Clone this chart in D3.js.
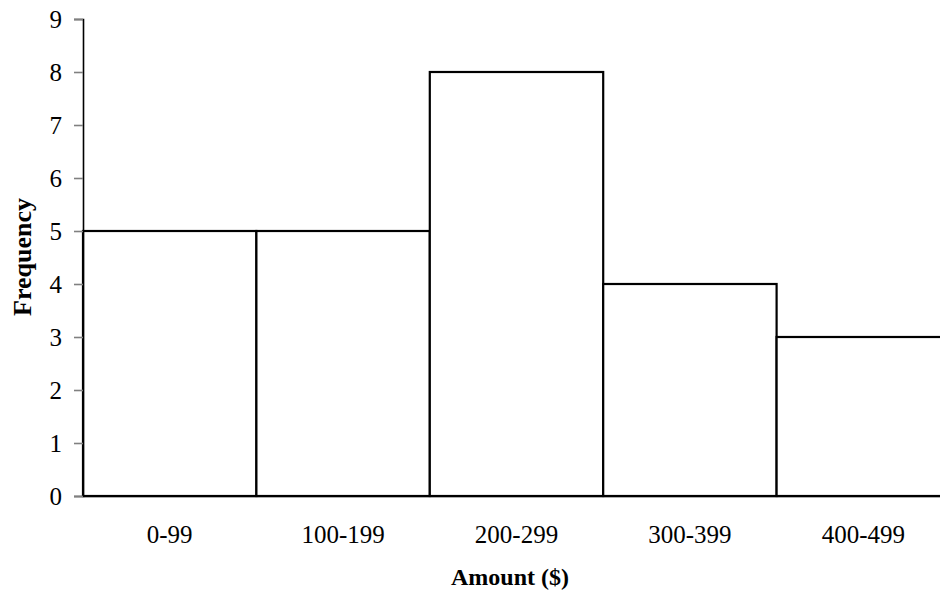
<!DOCTYPE html>
<html>
<head>
<meta charset="utf-8">
<script src="https://cdn.jsdelivr.net/npm/d3@7"></script>
<style>
  html, body { margin: 0; padding: 0; background: #fff; }
  svg { display: block; }
  text { font-family: "Liberation Serif", "Times New Roman", serif; fill: #000; }
</style>
</head>
<body>
<svg id="chart" width="940" height="595"></svg>
<script>
// Histogram of amounts
const categories = ["0-99", "100-199", "200-299", "300-399", "400-499"];
const frequencies = [5, 5, 8, 4, 3];
const yTicks = [0, 1, 2, 3, 4, 5, 6, 7, 8, 9];

const svg = d3.select("#chart");
const plotLeft = 83, plotBottom = 496, plotTop = 19, binWidth = 173.4;

const x = d3.scaleBand()
  .domain(categories)
  .range([plotLeft, plotLeft + binWidth * categories.length])
  .padding(0);

const y = d3.scaleLinear().domain([0, 9]).range([plotBottom, plotTop]);

// Bars
svg.append("g")
  .selectAll("rect")
  .data(categories.map((c, i) => ({ c, v: frequencies[i] })))
  .join("rect")
  .attr("x", d => x(d.c))
  .attr("y", d => y(d.v))
  .attr("width", x.bandwidth())
  .attr("height", d => y(0) - y(d.v))
  .attr("fill", "#fff")
  .attr("stroke", "#000")
  .attr("stroke-width", 2.2);

// Y axis
const yAxis = svg.append("g")
  .attr("transform", `translate(${plotLeft},0)`)
  .call(d3.axisLeft(y).tickValues(yTicks).tickSize(9).tickPadding(12).tickFormat(d3.format("d")));
yAxis.select(".domain").attr("stroke", "#000").attr("stroke-width", 1.6);
yAxis.selectAll(".tick line").attr("stroke", "#808080").attr("stroke-width", 1.6);
yAxis.selectAll(".tick text")
  .attr("font-family", "Liberation Serif, serif")
  .attr("font-size", 25)
  .attr("fill", "#000");

// X axis
const xAxis = svg.append("g")
  .attr("transform", `translate(0,${plotBottom})`)
  .call(d3.axisBottom(x).tickSize(0).tickPadding(29));
xAxis.select(".domain").attr("stroke", "#000").attr("stroke-width", 1.6);
xAxis.selectAll(".tick text")
  .attr("font-family", "Liberation Serif, serif")
  .attr("font-size", 25)
  .attr("fill", "#000");

// Axis titles
svg.append("text")
  .attr("x", 510)
  .attr("y", 585)
  .attr("text-anchor", "middle")
  .attr("font-weight", "bold")
  .attr("font-size", 24)
  .text("Amount ($)");

svg.append("text")
  .attr("transform", "translate(31,257) rotate(-90)")
  .attr("text-anchor", "middle")
  .attr("font-weight", "bold")
  .attr("font-size", 26)
  .text("Frequency");
</script>
</body>
</html>
